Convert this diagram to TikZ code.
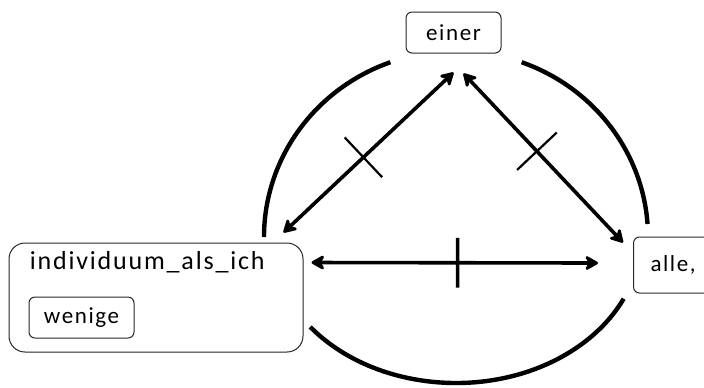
\documentclass[tikz,border=0pt]{standalone}
\usepackage{fontspec}
\setmainfont{Carlito}[LetterSpace=7]
\usetikzlibrary{arrows.meta}

\begin{document}
\begin{tikzpicture}[
  x=0.5pt, y=-0.5pt,
  box/.style={draw=black!85, line width=0.5pt, rounded corners=3pt, inner sep=0pt, font=\fontsize{11.5}{13}\selectfont},
  ring/.style={line width=2.2pt},
  link/.style={{Stealth[round,length=8pt,width=9pt]}-{Stealth[round,length=8pt,width=9pt]}, line width=1.8pt},
  crossbar/.style={sloped, inner sep=0pt, minimum width=0pt, minimum height=#1}
]
\useasboundingbox (0,0) rectangle (704,387);

\node[box, minimum width=47.5pt, minimum height=20.5pt] (einer) at (453.5,32.5) {einer};
\node[box, rounded corners=8pt, minimum width=147pt, minimum height=54.5pt] (indiv) at (156,297.5) {};
\node[anchor=base west, inner sep=0pt, font=\fontsize{13}{15}\selectfont] (ich) at ([shift={(21,27)}]indiv.north west) {individuum\_als\_ich};
\node[box, anchor=north west, minimum width=52.5pt, minimum height=20.5pt] (wenige) at ([shift={(20,54)}]indiv.north west) {wenige};
\node[box, anchor=west, minimum height=28pt, inner xsep=8.5pt, text width=35pt] (alle) at (633,265) {alle,};

% the ring round the three groups
\coordinate (hub) at (456,237);
\draw[ring] ([shift={(-110:192 and 186)}]hub) arc[start angle=-110, end angle=-180, x radius=192, y radius=186];
\draw[ring] ([shift={(-70:192 and 186)}]hub) arc[start angle=-70, end angle=-4, x radius=192, y radius=186];
\draw[ring] ([shift={(142:185 and 146)}]hub) arc[start angle=142, end angle=25, x radius=185, y radius=146];

\draw[link] ([shift={(-20,-10)}]indiv.north east) -- node[crossbar=25.5pt, pos=.47] (x1) {} ([shift={(0,19)}]einer.south);
\draw[link] ([shift={(10,20)}]einer.south) -- node[crossbar=25.5pt, pos=.46] (x2) {} ([shift={(-10,6)}]alle.north west);
\draw[link] ([shift={(8,20)}]indiv.north east) -- node[crossbar=23pt, pos=.51] (x3) {} ([shift={(-35,-2)}]alle.west);
\draw[line width=1.1pt] (x1.north) -- (x1.south);
\draw[line width=1.1pt] (x2.north) -- (x2.south);
\draw[line width=1.8pt] (x3.north) -- (x3.south);
\end{tikzpicture}
\end{document}
